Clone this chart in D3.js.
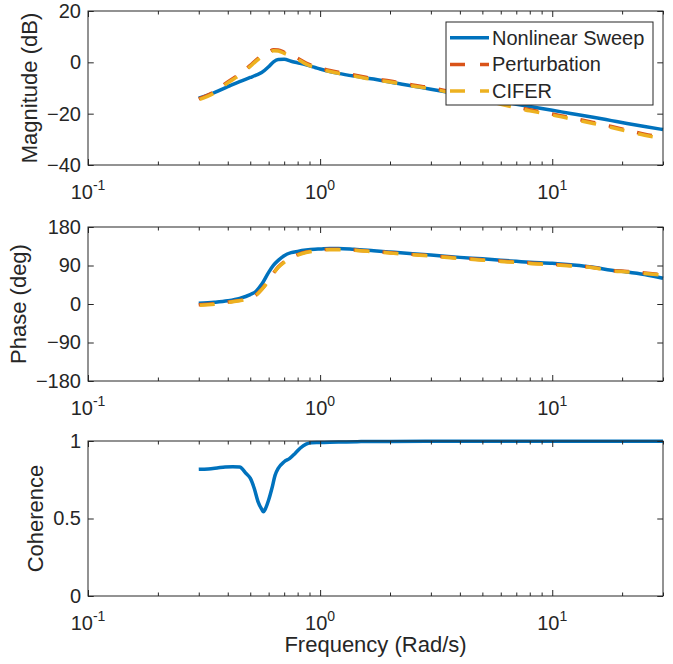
<!DOCTYPE html>
<html>
<head>
<meta charset="utf-8">
<script src="https://cdn.jsdelivr.net/npm/d3@7"></script>
<style>
  body { margin: 0; background: #fff; }
  svg text { font-family: "Liberation Sans", Arial, Helvetica, sans-serif; fill: #262626; }
</style>
</head>
<body>
<svg id="chart" width="673" height="664"></svg>
<script>
// frequency points (rad/s)
const freq = [0.3, 0.35, 0.4, 0.45, 0.5, 0.53, 0.56, 0.6, 0.63, 0.66, 0.7, 0.75, 0.8, 0.87, 0.95,
  1.0, 1.1, 1.2, 1.4, 1.7, 2, 2.5, 3, 4, 5, 6, 7, 8, 10, 12, 15, 18, 21, 25, 30];

// magnitude (dB)
const magSweep = [-14.0, -11.8, -9.5, -7.5, -5.9, -5.0, -4.0, -1.7, 0.2, 1.1, 1.2, 0.4, -0.2, -1.0, -2.0,
  -2.6, -3.6, -4.3, -5.35, -6.5, -7.7, -9.2, -10.5, -12.4, -14.0, -15.2, -16.3, -17.2, -18.7, -19.9, -21.4, -22.7, -23.8, -25.0, -26.2];
const magPert = [-14.2, -11.5, -7.6, -4.6, -1.2, 0.9, 2.6, 4.1, 4.9, 4.8, 3.9, 2.8, 1.6, -0.3, -1.6,
  -2.2, -3.2, -3.9, -4.9, -6.4, -7.3, -8.8, -9.9, -12.2, -14.3, -15.9, -17.3, -18.5, -20.1, -21.6, -23.4, -25.0, -26.4, -28.0, -29.2];
const magCifer = [-14.6, -11.9, -8.0, -5.0, -1.6, 0.5, 2.2, 3.7, 4.5, 4.4, 3.5, 2.4, 1.2, -0.7, -2.0,
  -2.6, -3.6, -4.3, -5.3, -6.8, -7.7, -9.2, -10.3, -12.6, -14.7, -16.3, -17.7, -18.9, -20.5, -22.0, -23.8, -25.4, -26.8, -28.4, -29.6];

// phase (deg)
const phaseSweep = [1.5, 4, 7.5, 13, 22, 30, 46, 74, 91, 102, 113, 120, 123, 126, 128,
  128.6, 130, 130, 128, 124.5, 121.5, 117.5, 114.5, 109, 105.5, 102.3, 99.8, 97.6, 95, 91.5, 86, 79, 75, 69, 60];
const phasePert = [-2, 0.5, 4.5, 8.5, 14.5, 21.5, 34.5, 55.5, 72.5, 86.5, 98.5, 108.5, 115.5, 121.5, 125,
  126.5, 128, 128, 126.5, 123, 120, 116, 113, 107.5, 103.5, 100.5, 98, 95.8, 93, 90, 85.5, 78.5, 76, 72.5, 68];
const phaseCifer = [-3, -0.5, 3.5, 7.5, 13.5, 20.5, 33.5, 54.5, 71.5, 85.5, 97.5, 107.5, 114.5, 120.5, 124,
  125.5, 127, 127, 125.5, 122, 119, 115, 112, 106.5, 102.5, 99.5, 97, 94.8, 92, 89, 84.5, 77.5, 75, 71.5, 67];

// coherence
const cohFreq = [0.3, 0.33, 0.36, 0.39, 0.42, 0.45, 0.48, 0.5, 0.52, 0.54, 0.56, 0.57, 0.58, 0.6, 0.62,
  0.64, 0.66, 0.7, 0.74, 0.78, 0.82, 0.87, 0.92, 1.0, 1.2, 1.5, 2, 3, 5, 10, 20, 30];
const cohSweep = [0.817, 0.82, 0.826, 0.832, 0.834, 0.832, 0.79, 0.76, 0.695, 0.609, 0.56, 0.544, 0.56, 0.619, 0.695,
  0.78, 0.823, 0.866, 0.888, 0.92, 0.953, 0.98, 0.989, 0.99, 0.994, 0.996, 0.997, 0.998, 0.999, 0.999, 0.999, 0.999];

const majorX = [0.1, 1, 10];
const minorX = [0.2, 0.3, 0.4, 0.5, 0.6, 0.7, 0.8, 0.9, 2, 3, 4, 5, 6, 7, 8, 9, 20, 30];
const expLabels = ["-1", "0", "1"];

const seriesNames = ["Nonlinear Sweep", "Perturbation", "CIFER"];
const colors = ["#0072BD", "#D95319", "#EDB120"];
const axisColor = "#262626";

const svg = d3.select("#chart");
const left = 88, right = 663;
const x = d3.scaleLog().domain([0.1, 30]).range([left, right]);

const panels = [
  { top: 11, bottom: 165, domain: [-40, 20], ticks: [-40, -20, 0, 20], label: "Magnitude (dB)",
    series: [magSweep, magPert, magCifer], xs: freq },
  { top: 227, bottom: 381, domain: [-180, 180], ticks: [-180, -90, 0, 90, 180], label: "Phase (deg)",
    series: [phaseSweep, phasePert, phaseCifer], xs: freq },
  { top: 441, bottom: 596, domain: [0, 1], ticks: [0, 0.5, 1], label: "Coherence",
    series: [cohSweep], xs: cohFreq }
];

function styleAxis(sel) {
  sel.select(".domain").remove();
  sel.selectAll(".tick line").attr("stroke", axisColor).attr("stroke-width", 1);
  sel.selectAll(".tick text").attr("font-size", 20).attr("fill", axisColor);
}

panels.forEach(function(p) {
  const y = d3.scaleLinear().domain(p.domain).range([p.bottom, p.top]);
  const g = svg.append("g");

  // data lines
  const dash = ["", "15,14", "15,14"];
  const offs = [0, 0, -1];
  p.series.forEach(function(vals, i) {
    const line = d3.line()
      .x((d, j) => x(p.xs[j]))
      .y(d => y(d))
      .curve(d3.curveMonotoneX);
    g.append("path")
      .datum(vals)
      .attr("d", line)
      .attr("fill", "none")
      .attr("stroke", colors[i])
      .attr("stroke-width", 3.5)
      .attr("stroke-linejoin", "round")
      .attr("stroke-dasharray", dash[i] || null)
      .attr("stroke-dashoffset", offs[i]);
  });

  // x ticks, bottom and top, pointing inward
  g.append("g").attr("transform", "translate(0," + p.bottom + ")")
    .call(d3.axisBottom(x).tickValues(majorX).tickSize(-6).tickFormat(""))
    .call(styleAxis);
  g.append("g").attr("transform", "translate(0," + p.bottom + ")")
    .call(d3.axisBottom(x).tickValues(minorX).tickSize(-3.5).tickFormat(""))
    .call(styleAxis);
  g.append("g").attr("transform", "translate(0," + p.top + ")")
    .call(d3.axisTop(x).tickValues(majorX).tickSize(-6).tickFormat(""))
    .call(styleAxis);
  g.append("g").attr("transform", "translate(0," + p.top + ")")
    .call(d3.axisTop(x).tickValues(minorX).tickSize(-3.5).tickFormat(""))
    .call(styleAxis);

  // y ticks
  const yl = g.append("g").attr("transform", "translate(" + left + ",0)")
    .call(d3.axisLeft(y).tickValues(p.ticks).tickSize(-5.75).tickPadding(7).tickFormat(d3.format("")))
    .call(styleAxis);
  g.append("g").attr("transform", "translate(" + right + ",0)")
    .call(d3.axisRight(y).tickValues(p.ticks).tickSize(-5.75).tickFormat(""))
    .call(styleAxis);

  // box
  g.append("rect")
    .attr("x", left).attr("y", p.top)
    .attr("width", right - left).attr("height", p.bottom - p.top)
    .attr("fill", "none").attr("stroke", axisColor).attr("stroke-width", 1);

  // x tick labels 10^n
  majorX.forEach(function(v, i) {
    const t = g.append("text")
      .attr("x", x(v)).attr("y", p.bottom + 34)
      .attr("text-anchor", "middle")
      .attr("font-size", 20);
    t.append("tspan").text("10");
    t.append("tspan").attr("font-size", 14).attr("dy", -9).text(expLabels[i]);
  });

  // y label
  const bb = yl.node().getBBox();
  g.append("text")
    .attr("transform", "translate(" + (left + bb.x - 10) + "," + ((p.top + p.bottom) / 2) + ") rotate(-90)")
    .attr("text-anchor", "middle")
    .attr("font-size", 22)
    .text(p.label);
});

// x label
svg.append("text")
  .attr("x", (left + right) / 2).attr("y", 652)
  .attr("text-anchor", "middle")
  .attr("font-size", 22)
  .text("Frequency (Rad/s)");

// legend
const leg = svg.append("g");
leg.append("rect")
  .attr("x", 446).attr("y", 22).attr("width", 207).attr("height", 83)
  .attr("fill", "#fff").attr("stroke", axisColor).attr("stroke-width", 1);
seriesNames.forEach(function(name, i) {
  const cy = 37.7 + i * 26.7;
  leg.append("line")
    .attr("x1", 450).attr("x2", 489).attr("y1", cy).attr("y2", cy)
    .attr("stroke", colors[i]).attr("stroke-width", 3.5)
    .attr("stroke-dasharray", i === 0 ? null : "15,15");
  leg.append("text")
    .attr("x", 492).attr("y", cy)
    .attr("dominant-baseline", "central")
    .attr("font-size", 20)
    .text(name);
});
</script>
</body>
</html>
